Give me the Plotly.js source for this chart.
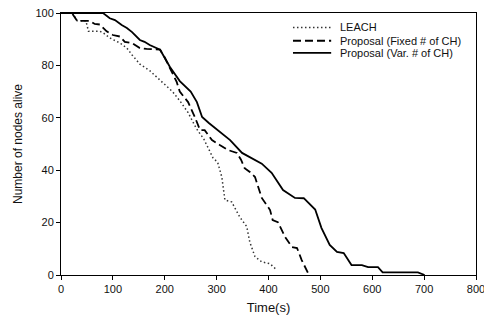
<!DOCTYPE html>
<html>
<head>
<meta charset="utf-8">
<script src="https://cdn.plot.ly/plotly-3.0.1.min.js"></script>
<style>html,body{margin:0;padding:0;background:#fff;}#chart{width:484px;height:318px;}</style>
</head>
<body>
<div id="chart"></div>
<script>
// LEACH
var leachX = [0, 23, 31, 48, 53, 75, 81, 94, 114, 127, 137, 152, 171, 185, 200, 215, 229, 245, 258, 264, 275, 293, 302, 310, 316, 329, 345, 358, 364, 374, 387, 403, 416];
var leachY = [100, 100, 97, 97, 93, 93, 92.5, 90.5, 88.5, 86.6, 84, 80.5, 78, 75.5, 73, 70, 66.5, 62, 57, 55, 52, 44.7, 43, 37.4, 28.6, 27.9, 22, 18.5, 12.5, 7, 5, 4.3, 1.9];
// Proposal (Fixed # of CH)
var fixedX = [0, 21, 31, 56, 65, 75, 88, 100, 114, 123, 137, 152, 165, 185, 191, 200, 210, 216, 223, 229, 245, 258, 268, 277, 291, 306, 322, 339, 347, 354, 364, 374, 387, 403, 408, 418, 432, 445, 455, 464, 478];
var fixedY = [100, 100, 97, 97, 95.8, 95.6, 93, 91.6, 91, 89, 88.5, 86.6, 86.3, 86.2, 86, 83, 79, 76.3, 73.7, 70, 66, 60.3, 55.3, 55.3, 51.5, 49.6, 47.7, 46.6, 44, 40.8, 39.3, 37.4, 29.4, 24.8, 21, 20.2, 14.5, 10.7, 10.3, 5.7, 0];
// Proposal (Var. # of CH)
var varX = [0, 81, 94, 104, 117, 127, 137, 152, 161, 171, 191, 200, 210, 229, 250, 262, 272, 285, 300, 326, 349, 364, 387, 406, 428, 451, 468, 490, 502, 518, 532, 545, 560, 580, 592, 611, 620, 688, 695, 701];
var varY = [100, 100, 98, 97.3, 95.4, 94.3, 92.7, 89.7, 89, 87.8, 86, 82.8, 79.4, 74, 70, 66, 60.3, 58, 55.5, 51.5, 46.6, 45, 42.5, 39, 32.4, 29.4, 29.3, 25, 18, 11.5, 8.8, 8.4, 3.8, 3.8, 3, 3, 1, 1, 0.6, 0];

var seriesNames = ['LEACH', 'Proposal (Fixed # of CH)', 'Proposal (Var. # of CH)'];
var xTicks = [0, 100, 200, 300, 400, 500, 600, 700, 800];
var yTicks = [0, 20, 40, 60, 80, 100];

var fontFam = '"Liberation Sans", Arial, sans-serif';
var lineStyles = [
  {color: '#333', width: 1.5, dash: '1.5px,2.5px'},
  {color: '#000', width: 1.8, dash: '8px,4px'},
  {color: '#000', width: 1.8, dash: 'solid'}
];
var traces = [
  {x: leachX, y: leachY, name: seriesNames[0], mode: 'lines', line: lineStyles[0]},
  {x: fixedX, y: fixedY, name: seriesNames[1], mode: 'lines', line: lineStyles[1]},
  {x: varX, y: varY, name: seriesNames[2], mode: 'lines', line: lineStyles[2]}
];

// hand-built legend (compact row spacing like the original)
var legRowsY = [0.945, 0.894, 0.848];
var shapes = [], annotations = [];
seriesNames.forEach(function (nm, i) {
  shapes.push({type: 'line', xref: 'paper', yref: 'paper', x0: 0.559, x1: 0.651,
               y0: legRowsY[i], y1: legRowsY[i], line: lineStyles[i]});
  annotations.push({xref: 'paper', yref: 'paper', x: 0.667, y: legRowsY[i], text: nm,
                    showarrow: false, xanchor: 'left', yanchor: 'middle',
                    font: {family: fontFam, size: 11, color: '#111'}});
});

var layout = {
  width: 484, height: 318,
  margin: {l: 61, r: 8, t: 13, b: 43},
  paper_bgcolor: '#fff', plot_bgcolor: '#fff',
  font: {family: fontFam, size: 11, color: '#111'},
  showlegend: false,
  shapes: shapes,
  annotations: annotations,
  xaxis: {range: [0, 800], tickvals: xTicks, ticktext: xTicks.map(String), ticks: 'outside', ticklen: 4, tickcolor: '#000',
          showline: true, linecolor: '#000', linewidth: 1, mirror: true, showgrid: false, zeroline: false,
          ticklabeloverflow: 'allow', automargin: false,
          tickfont: {family: fontFam, size: 11, color: '#111'},
          title: {text: 'Time(s)', font: {family: fontFam, size: 13, color: '#111'}, standoff: 8}},
  yaxis: {range: [0, 100], tickvals: yTicks, ticktext: yTicks.map(String), ticks: 'outside', ticklen: 4, tickcolor: '#000',
          showline: true, linecolor: '#000', linewidth: 1, mirror: true, showgrid: false, zeroline: false,
          automargin: false,
          tickfont: {family: fontFam, size: 11, color: '#111'},
          title: {text: 'Number of nodes alive', font: {family: fontFam, size: 12, color: '#111'}, standoff: 10}}
};
Plotly.newPlot('chart', traces, layout, {displayModeBar: false, staticPlot: true});
</script>
</body>
</html>
